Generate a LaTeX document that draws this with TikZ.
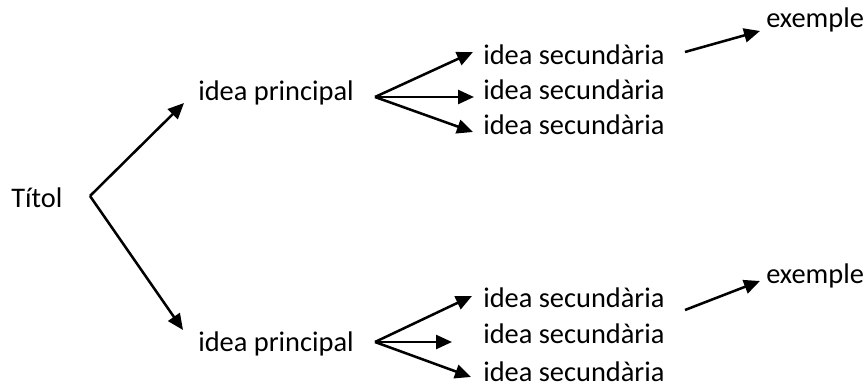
\documentclass[tikz,border=0pt]{standalone}
\usepackage{fontspec}
\setmainfont{Carlito}
\usetikzlibrary{arrows.meta}
\begin{document}
\begin{tikzpicture}[x=0.75pt,y=-0.75pt,
  lbl/.style={anchor=base west,inner sep=0pt,font=\fontsize{21.3}{25}\selectfont},
  conn/.style={line width=1.9pt,-{Triangle[length=12pt,width=10.5pt]}}]
\useasboundingbox (0,0) rectangle (868,392);
% texts
\node[lbl] (t) at (11,208) {Títol};
\node[lbl] (p1) at (198,101) {idea principal};
\node[lbl] (p2) at (198,351) {idea principal};
\node[lbl] (s11) at (483,65) {idea secundària};
\node[lbl] (s12) at (483,100) {idea secundària};
\node[lbl] (s13) at (483,135) {idea secundària};
\node[lbl] (s21) at (483,307) {idea secundària};
\node[lbl] (s22) at (483,343) {idea secundària};
\node[lbl] (s23) at (483,381) {idea secundària};
\node[lbl] (e1) at (766,28) {exemple};
\node[lbl] (e2) at (766,283) {exemple};
% connector points
\coordinate (j0) at (90,196);
\coordinate (jp1) at (184,103);
\coordinate (jp2) at (183,330);
\coordinate (f1) at (375,97);
\coordinate (f2) at (375,342);
\coordinate (a11) at (473,52);
\coordinate (a12) at (474,97);
\coordinate (a13) at (473,132);
\coordinate (a21) at (472,296);
\coordinate (a22) at (452,342);
\coordinate (a23) at (471,377);
\coordinate (x1s) at (685,52);
\coordinate (x1e) at (760,31);
\coordinate (x2s) at (685,310);
\coordinate (x2e) at (760,281);
% connectors
\draw[conn] (j0) -- (jp1);
\draw[conn] (j0) -- (jp2);
\draw[conn] (f1) -- (a11);
\draw[conn] (f1) -- (a12);
\draw[conn] (f1) -- (a13);
\draw[conn] (f2) -- (a21);
\draw[conn] (f2) -- (a22);
\draw[conn] (f2) -- (a23);
\draw[conn] (x1s) -- (x1e);
\draw[conn] (x2s) -- (x2e);
\end{tikzpicture}
\end{document}
